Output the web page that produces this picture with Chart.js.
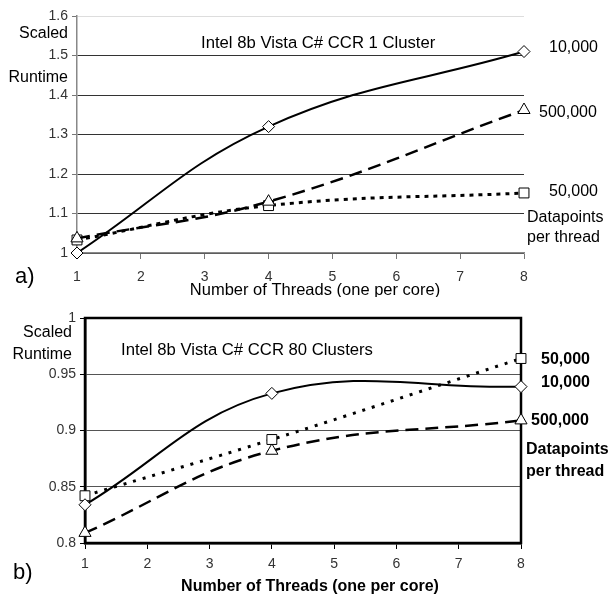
<!DOCTYPE html>
<html>
<head>
<meta charset="utf-8">
<script src="https://cdn.jsdelivr.net/npm/chart.js@4.4.0/dist/chart.umd.min.js"></script>
<style>
body { margin: 0; background: #fff; }
canvas { display: block; }
</style>
</head>
<body>
<canvas id="chartA" width="608" height="297"></canvas>
<canvas id="chartB" width="608" height="298"></canvas>
<script>
// values (threads 1, 4, 8)
const threads = [1, 4, 8];
const a10k = [1.0, 1.32, 1.51];
const a500k = [1.037, 1.13, 1.362];
const a50k = [1.033, 1.12, 1.152];
const b10k = [0.834, 0.933, 0.939];
const b50k = [0.842, 0.892, 0.964];
const b500k = [0.809, 0.882, 0.909];

const xTicks = [1, 2, 3, 4, 5, 6, 7, 8];
const yTicksA = [1, 1.1, 1.2, 1.3, 1.4, 1.5, 1.6];
const yTicksB = [0.8, 0.85, 0.9, 0.95, 1];

const FONT = "'Liberation Sans', Arial, sans-serif";

function pts(ys) {
    return threads.map((t, i) => ({ x: t, y: ys[i] }));
}

function series(ys, style, dash, width, radius) {
    return {
        data: pts(ys),
        borderColor: '#000',
        borderWidth: width,
        borderDash: dash,
        tension: 0.4,
        pointStyle: style,
        pointRadius: radius,
        pointBackgroundColor: '#fff',
        pointBorderColor: '#000',
        pointBorderWidth: 1,
        clip: false
    };
}

// free text drawn on the canvas (labels, titles)
const textPlugin = {
    id: 'texts',
    afterDraw(chart, args, opts) {
        const c = chart.ctx;
        c.save();
        c.textBaseline = 'middle';
        c.fillStyle = '#000';
        opts.items.forEach(t => {
            c.font = (t.bold ? 'bold ' : '') + t.size + 'px ' + FONT;
            c.textAlign = t.align || 'left';
            c.fillText(t.text, t.x, t.y);
        });
        c.restore();
    }
};

const boxPlugin = {
    id: 'box',
    beforeDatasetsDraw(chart, args, opts) {
        if (!opts.on) return;
        const { left, top, right, bottom } = chart.chartArea;
        const c = chart.ctx;
        c.save();
        c.strokeStyle = '#000';
        c.lineWidth = 2.5;
        c.strokeRect(left, top, right - left, bottom - top);
        c.restore();
    }
};

function makeOptions(cfg) {
    return {
        responsive: false,
        animation: false,
        layout: { padding: cfg.padding },
        plugins: {
            legend: { display: false },
            tooltip: { enabled: false },
            texts: { items: cfg.texts },
            box: { on: cfg.box }
        },
        scales: {
            x: {
                type: 'linear',
                min: 1,
                max: 8,
                afterBuildTicks: s => { s.ticks = xTicks.map(v => ({ value: v })); },
                afterFit: s => { s.height = cfg.xHeight; },
                grid: { drawOnChartArea: false, tickLength: 6, tickColor: cfg.tickColor },
                border: { color: cfg.axisColor, width: cfg.axisWidth },
                ticks: { font: { family: FONT, size: 14 }, color: '#333', padding: cfg.xPad, maxRotation: 0 }
            },
            y: {
                min: cfg.yMin,
                max: cfg.yMax,
                afterBuildTicks: s => { s.ticks = cfg.yTicks.map(v => ({ value: v })); },
                afterFit: s => { s.width = cfg.yWidth; },
                grid: {
                    color: ctx => cfg.gridColor(ctx.tick ? ctx.tick.value : 0),
                    tickLength: 5,
                    tickColor: cfg.tickColor
                },
                border: { color: cfg.axisColor, width: cfg.axisWidth },
                ticks: {
                    font: { family: FONT, size: 14 },
                    color: '#333',
                    padding: 4,
                    callback: v => String(+v.toFixed(2))
                }
            }
        }
    };
}

new Chart(document.getElementById('chartA'), {
    type: 'line',
    data: {
        datasets: [
            series(a10k, 'rectRot', [], 2, 6),
            series(a500k, 'triangle', [13, 7], 2.5, 7),
            series(a50k, 'rect', [4, 5], 3, 7)
        ]
    },
    options: makeOptions({
        padding: { left: 0, right: 84, top: 16, bottom: 0 },
        xHeight: 44,
        yWidth: 77,
        xPad: 10,
        yMin: 1,
        yMax: 1.6,
        yTicks: yTicksA,
        tickColor: '#777',
        axisColor: '#888',
        axisWidth: 1.5,
        box: false,
        gridColor: v => v > 1.55 ? '#ddd' : '#333',
        texts: [
            { text: 'Scaled', x: 68, y: 34, size: 16, align: 'right' },
            { text: 'Runtime', x: 68, y: 78, size: 16, align: 'right' },
            { text: 'Intel 8b Vista C# CCR 1 Cluster', x: 201, y: 43, size: 16.7 },
            { text: '10,000', x: 549, y: 48, size: 16 },
            { text: '500,000', x: 539, y: 113, size: 16 },
            { text: '50,000', x: 549, y: 192, size: 16 },
            { text: 'Datapoints', x: 527, y: 218, size: 16 },
            { text: 'per thread', x: 527, y: 238, size: 16 },
            { text: 'Number of Threads (one per core)', x: 315, y: 290, size: 16.5, align: 'center' },
            { text: 'a)', x: 15, y: 277, size: 22 }
        ]
    }),
    plugins: [textPlugin, boxPlugin]
});

new Chart(document.getElementById('chartB'), {
    type: 'line',
    data: {
        datasets: [
            series(b10k, 'rectRot', [], 2, 6),
            series(b50k, 'rect', [3, 7], 3, 7),
            series(b500k, 'triangle', [13, 7], 2.5, 7)
        ]
    },
    options: makeOptions({
        padding: { left: 0, right: 87, top: 21, bottom: 0 },
        xHeight: 52,
        yWidth: 85,
        xPad: 7,
        yMin: 0.8,
        yMax: 1,
        yTicks: yTicksB,
        tickColor: '#000',
        axisColor: '#000',
        axisWidth: 2.5,
        box: true,
        gridColor: v => '#555',
        texts: [
            { text: 'Scaled', x: 72, y: 36, size: 16, align: 'right' },
            { text: 'Runtime', x: 72, y: 58, size: 16, align: 'right' },
            { text: 'Intel 8b Vista C# CCR 80 Clusters', x: 121, y: 53, size: 16.7 },
            { text: '50,000', x: 541, y: 63, size: 16, bold: true },
            { text: '10,000', x: 541, y: 86, size: 16, bold: true },
            { text: '500,000', x: 531, y: 124, size: 16, bold: true },
            { text: 'Datapoints', x: 526, y: 153, size: 16, bold: true },
            { text: 'per thread', x: 526, y: 175, size: 16, bold: true },
            { text: 'Number of Threads (one per core)', x: 310, y: 290, size: 16, bold: true, align: 'center' },
            { text: 'b)', x: 13, y: 276, size: 22 }
        ]
    }),
    plugins: [textPlugin, boxPlugin]
});
</script>
</body>
</html>
